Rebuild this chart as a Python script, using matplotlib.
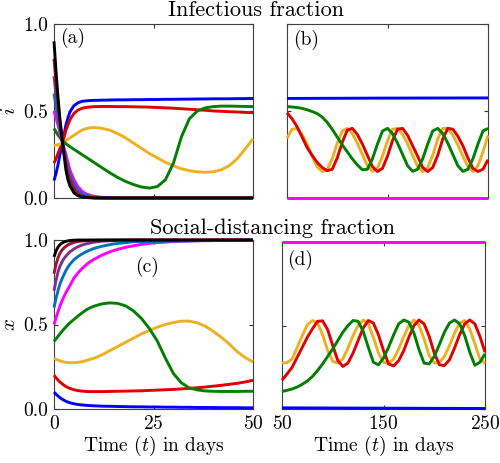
import numpy as np
import matplotlib.pyplot as plt

plt.rcParams['font.family'] = 'serif'
plt.rcParams['font.serif'] = ['cmr10']
plt.rcParams['mathtext.fontset'] = 'cm'
plt.rcParams['axes.formatter.use_mathtext'] = True

# time grids (days)
t_a = [0, 0.5, 1, 1.5, 2, 2.5, 3, 3.5, 4, 5, 6, 7, 8, 9, 10, 12, 14, 16, 18, 20,
       22, 24, 26, 28, 30, 32, 34, 36, 38, 40, 42, 44, 46, 48, 50]
t_fast = [0, 0.5, 1, 1.5, 2, 2.5, 3, 3.5, 4, 5, 6, 7, 8, 10, 12, 15, 20, 50]
t_long = [50, 55, 60, 65, 70, 75, 80, 85, 90, 95, 100, 105, 110, 115, 120, 125,
          130, 135, 140, 145, 150, 155, 160, 165, 170, 175, 180, 185, 190, 195,
          200, 205, 210, 215, 220, 225, 230, 235, 240, 245, 250]
t_ends = [50, 150, 250]

# infectious fraction i, panel (a)
i_blue_a = [0.10, 0.14, 0.19, 0.25, 0.30, 0.36, 0.42, 0.46, 0.495, 0.53, 0.547, 0.555,
            0.558, 0.56, 0.561, 0.562, 0.563, 0.564, 0.564, 0.565, 0.565, 0.566, 0.566,
            0.567, 0.567, 0.568, 0.568, 0.569, 0.569, 0.57, 0.57, 0.57, 0.571, 0.571, 0.572]
i_red_a = [0.20, 0.225, 0.255, 0.285, 0.31, 0.345, 0.39, 0.42, 0.45, 0.485, 0.505, 0.515,
           0.52, 0.523, 0.525, 0.526, 0.526, 0.525, 0.525, 0.524, 0.523, 0.522, 0.52,
           0.518, 0.516, 0.513, 0.51, 0.507, 0.504, 0.50, 0.498, 0.496, 0.494, 0.492, 0.49]
i_gold_a = [0.30, 0.303, 0.306, 0.31, 0.315, 0.322, 0.33, 0.338, 0.345, 0.36, 0.375, 0.39,
            0.398, 0.403, 0.405, 0.40, 0.39, 0.37, 0.345, 0.315, 0.285, 0.255, 0.23, 0.205,
            0.185, 0.168, 0.157, 0.15, 0.148, 0.15, 0.162, 0.185, 0.225, 0.28, 0.34]
i_green_a = [0.40, 0.38, 0.362, 0.347, 0.333, 0.322, 0.312, 0.303, 0.295, 0.28, 0.265, 0.25,
             0.235, 0.22, 0.205, 0.175, 0.145, 0.118, 0.095, 0.077, 0.063, 0.057, 0.066,
             0.105, 0.20, 0.35, 0.455, 0.50, 0.518, 0.525, 0.528, 0.528, 0.527, 0.526, 0.525]
i_magenta_a = [0.50, 0.46, 0.42, 0.37, 0.33, 0.29, 0.25, 0.205, 0.16, 0.105, 0.065, 0.04,
               0.024, 0.009, 0.004, 0.001, 0.0, 0.0]
i_steel_a = [0.60, 0.53, 0.465, 0.40, 0.34, 0.28, 0.22, 0.175, 0.135, 0.08, 0.045, 0.026,
             0.015, 0.005, 0.002, 0.0, 0.0, 0.0]
i_purple_a = [0.70, 0.60, 0.51, 0.425, 0.345, 0.27, 0.205, 0.155, 0.115, 0.06, 0.03, 0.015,
              0.008, 0.002, 0.0, 0.0, 0.0, 0.0]
i_brown_a = [0.80, 0.67, 0.55, 0.44, 0.345, 0.262, 0.192, 0.138, 0.098, 0.048, 0.022, 0.01,
             0.005, 0.001, 0.0, 0.0, 0.0, 0.0]
i_black_a = [0.90, 0.73, 0.58, 0.45, 0.345, 0.25, 0.16, 0.105, 0.07, 0.03, 0.013, 0.006,
             0.003, 0.0, 0.0, 0.0, 0.0, 0.0]

# infectious fraction i, panel (b)
i_blue_b = [0.572, 0.574, 0.575]
i_magenta_b = [0.0, 0.0, 0.0]
i_red_b = [0.49, 0.455, 0.41, 0.35, 0.29, 0.245, 0.205, 0.175, 0.157, 0.165,
           0.23, 0.32, 0.39, 0.40, 0.365, 0.31, 0.245, 0.18, 0.152, 0.17,
           0.24, 0.33, 0.395, 0.40, 0.36, 0.30, 0.24, 0.175, 0.152, 0.175,
           0.245, 0.34, 0.40, 0.395, 0.355, 0.30, 0.23, 0.17, 0.152, 0.165, 0.22]
i_gold_b = [0.343, 0.395, 0.40, 0.365, 0.31, 0.24, 0.18, 0.152, 0.163, 0.225,
            0.315, 0.385, 0.40, 0.37, 0.315, 0.25, 0.185, 0.153, 0.17, 0.24,
            0.33, 0.395, 0.40, 0.365, 0.31, 0.245, 0.18, 0.152, 0.175, 0.245,
            0.34, 0.40, 0.40, 0.36, 0.305, 0.24, 0.18, 0.152, 0.185, 0.265, 0.36]
i_green_b = [0.525, 0.523, 0.52, 0.515, 0.507, 0.497, 0.485, 0.465, 0.435, 0.395,
             0.35, 0.305, 0.265, 0.225, 0.19, 0.162, 0.165, 0.225, 0.31, 0.385,
             0.40, 0.37, 0.315, 0.25, 0.185, 0.153, 0.165, 0.225, 0.31, 0.385,
             0.40, 0.37, 0.315, 0.25, 0.185, 0.153, 0.165, 0.225, 0.31, 0.385, 0.40]

# social-distancing fraction x, panel (c)
x_blue_c = [0.10, 0.088, 0.077, 0.067, 0.059, 0.052, 0.046, 0.041, 0.037, 0.031, 0.027,
            0.024, 0.022, 0.02, 0.019, 0.017, 0.016, 0.015, 0.014, 0.013, 0.013, 0.012,
            0.012, 0.011, 0.011, 0.010, 0.010, 0.009, 0.009, 0.009, 0.008, 0.008, 0.008,
            0.007, 0.007]
x_red_c = [0.20, 0.185, 0.172, 0.16, 0.15, 0.141, 0.133, 0.127, 0.122, 0.114, 0.109, 0.106,
           0.104, 0.103, 0.103, 0.103, 0.104, 0.105, 0.106, 0.107, 0.108, 0.11, 0.112,
           0.114, 0.116, 0.119, 0.122, 0.126, 0.13, 0.135, 0.14, 0.146, 0.152, 0.16, 0.17]
x_gold_c = [0.30, 0.294, 0.289, 0.285, 0.281, 0.278, 0.276, 0.275, 0.274, 0.274, 0.276,
            0.28, 0.286, 0.293, 0.30, 0.32, 0.345, 0.37, 0.395, 0.42, 0.445, 0.465, 0.485,
            0.50, 0.512, 0.52, 0.52, 0.51, 0.49, 0.46, 0.425, 0.385, 0.34, 0.305, 0.278]
x_green_c = [0.40, 0.415, 0.43, 0.445, 0.46, 0.473, 0.486, 0.498, 0.51, 0.53, 0.55, 0.568,
             0.585, 0.598, 0.608, 0.622, 0.628, 0.625, 0.61, 0.58, 0.535, 0.475, 0.40,
             0.30, 0.21, 0.155, 0.125, 0.113, 0.107, 0.105, 0.104, 0.104, 0.104, 0.105, 0.105]
x_magenta_c = [0.50, 0.54, 0.575, 0.61, 0.64, 0.665, 0.69, 0.71, 0.73, 0.775, 0.805, 0.83,
               0.852, 0.87, 0.885, 0.91, 0.93, 0.945, 0.957, 0.966, 0.974, 0.98, 0.985,
               0.988, 0.991, 0.993, 0.995, 0.996, 0.997, 0.998, 0.999, 0.999, 1.0, 1.0, 1.0]
x_steel_c = [0.60, 0.655, 0.70, 0.74, 0.77, 0.795, 0.82, 0.84, 0.857, 0.883, 0.902, 0.917,
             0.93, 0.95, 0.963, 0.977, 0.99, 1.0]
x_purple_c = [0.70, 0.76, 0.81, 0.845, 0.87, 0.89, 0.905, 0.918, 0.93, 0.947, 0.96, 0.97,
              0.977, 0.987, 0.993, 0.997, 1.0, 1.0]
x_brown_c = [0.80, 0.855, 0.895, 0.922, 0.94, 0.953, 0.963, 0.971, 0.977, 0.986, 0.991,
             0.994, 0.996, 0.998, 0.999, 1.0, 1.0, 1.0]
x_black_c = [0.90, 0.935, 0.958, 0.972, 0.982, 0.988, 0.992, 0.995, 0.997, 0.999, 1.0, 1.0,
             1.0, 1.0, 1.0, 1.0, 1.0, 1.0]

# social-distancing fraction x, panel (d)
x_blue_d = [0.007, 0.005, 0.003]
x_magenta_d = [1.0, 1.0, 1.0]
x_red_d = [0.172, 0.21, 0.25, 0.31, 0.37, 0.43, 0.48, 0.525, 0.528, 0.475,
           0.38, 0.29, 0.255, 0.275, 0.335, 0.41, 0.485, 0.53, 0.515, 0.445,
           0.35, 0.27, 0.258, 0.29, 0.35, 0.43, 0.50, 0.533, 0.51, 0.435,
           0.335, 0.265, 0.26, 0.295, 0.365, 0.445, 0.51, 0.533, 0.51, 0.435, 0.34]
x_gold_d = [0.275, 0.278, 0.30, 0.37, 0.44, 0.505, 0.53, 0.515, 0.445, 0.35,
            0.285, 0.275, 0.30, 0.365, 0.44, 0.50, 0.533, 0.51, 0.43, 0.335,
            0.28, 0.273, 0.30, 0.36, 0.435, 0.50, 0.533, 0.50, 0.42, 0.32,
            0.275, 0.28, 0.315, 0.38, 0.455, 0.515, 0.53, 0.48, 0.39, 0.30, 0.272]
x_green_d = [0.105, 0.112, 0.12, 0.132, 0.148, 0.168, 0.195, 0.23, 0.27, 0.315,
             0.36, 0.41, 0.46, 0.50, 0.53, 0.525, 0.465, 0.37, 0.28, 0.265,
             0.305, 0.37, 0.445, 0.51, 0.533, 0.52, 0.455, 0.355, 0.275, 0.27,
             0.315, 0.385, 0.46, 0.515, 0.533, 0.51, 0.44, 0.34, 0.262, 0.28, 0.33]

c_blue = '#0000ff'
c_red = '#e00000'
c_gold = '#edb120'
c_green = '#007f00'
c_magenta = '#ff00ff'
c_steel = '#0072bd'
c_purple = '#7e2f8e'
c_brown = '#a2142f'
c_black = '#000000'

LW = 2.1

fig = plt.figure(figsize=(5, 4.63), dpi=100)
ax_a = fig.add_axes([0.108, 0.5724, 0.398, 0.3758])
ax_b = fig.add_axes([0.574, 0.5724, 0.402, 0.3758])
ax_c = fig.add_axes([0.108, 0.1166, 0.398, 0.365])
ax_d = fig.add_axes([0.564, 0.1166, 0.406, 0.3607])


def line(ax, t, v, c):
    ax.plot(t, v, color=c, lw=LW, clip_on=False, solid_capstyle='butt', zorder=3)


line(ax_a, t_a, i_blue_a, c_blue)
line(ax_a, t_a, i_red_a, c_red)
line(ax_a, t_a, i_gold_a, c_gold)
line(ax_a, t_a, i_green_a, c_green)
line(ax_a, t_fast, i_magenta_a, c_magenta)
line(ax_a, t_fast, i_steel_a, c_steel)
line(ax_a, t_fast, i_purple_a, c_purple)
line(ax_a, t_fast, i_brown_a, c_brown)
line(ax_a, t_fast, i_black_a, c_black)

line(ax_b, t_ends, i_blue_b, c_blue)
line(ax_b, t_long, i_gold_b, c_gold)
line(ax_b, t_long, i_red_b, c_red)
line(ax_b, t_long, i_green_b, c_green)
line(ax_b, t_ends, i_magenta_b, c_magenta)

line(ax_c, t_a, x_blue_c, c_blue)
line(ax_c, t_a, x_red_c, c_red)
line(ax_c, t_a, x_gold_c, c_gold)
line(ax_c, t_a, x_green_c, c_green)
line(ax_c, t_a, x_magenta_c, c_magenta)
line(ax_c, t_fast, x_steel_c, c_steel)
line(ax_c, t_fast, x_purple_c, c_purple)
line(ax_c, t_fast, x_brown_c, c_brown)
line(ax_c, t_fast, x_black_c, c_black)

line(ax_d, t_ends, x_blue_d, c_blue)
line(ax_d, t_long, x_gold_d, c_gold)
line(ax_d, t_long, x_red_d, c_red)
line(ax_d, t_long, x_green_d, c_green)
line(ax_d, t_ends, x_magenta_d, c_magenta)

for ax, xl, xt in [(ax_a, (0, 50), [0, 25, 50]), (ax_b, (50, 250), [50, 150, 250]),
                   (ax_c, (0, 50), [0, 25, 50]), (ax_d, (50, 250), [50, 150, 250])]:
    ax.set_xlim(xl)
    ax.set_ylim(0, 1)
    ax.set_xticks(xt)
    ax.set_yticks([0, 0.5, 1])
    ax.tick_params(direction='in', top=True, right=True, length=3, width=0.8,
                   labelsize=14, pad=4, colors='#333333', labelcolor='black')
    for s in ax.spines.values():
        s.set_color('#404040')
        s.set_linewidth(0.8)

for ax in (ax_a, ax_c):
    ax.set_yticklabels(['0.0', '0.5', '1.0'])
for ax in (ax_b, ax_d):
    ax.set_yticklabels([])
for ax in (ax_a, ax_b):
    ax.set_xticklabels([])

ax_a.set_ylabel('$i$', fontsize=15, labelpad=3)
ax_c.set_ylabel('$x$', fontsize=15, labelpad=3)
ax_c.set_xlabel('Time ($t$) in days', fontsize=14, labelpad=1)
ax_d.set_xlabel('Time ($t$) in days', fontsize=14, labelpad=1)

ax_a.text(0.03, 0.975, '(a)', transform=ax_a.transAxes, fontsize=14, va='top', ha='left')
ax_b.text(0.03, 0.965, '(b)', transform=ax_b.transAxes, fontsize=14, va='top', ha='left')
ax_c.text(0.41, 0.9, '(c)', transform=ax_c.transAxes, fontsize=14, va='top', ha='left')
ax_d.text(0.025, 0.95, '(d)', transform=ax_d.transAxes, fontsize=14, va='top', ha='left')

fig.text(0.512, 0.9654, 'Infectious fraction', fontsize=16, ha='center', va='baseline')
fig.text(0.546, 0.4946, 'Social-distancing fraction', fontsize=16, ha='center', va='baseline')

fig.savefig('out.png', dpi=100)
